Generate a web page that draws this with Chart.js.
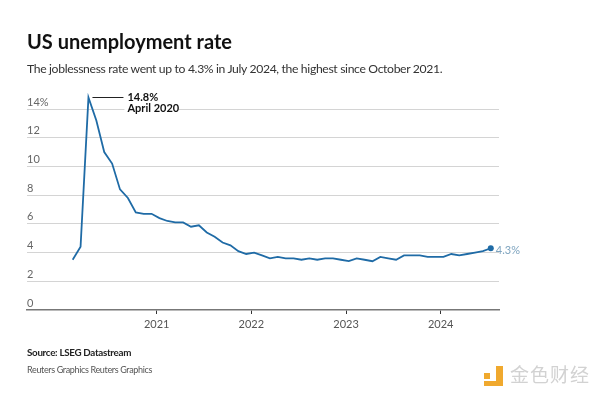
<!DOCTYPE html>
<html lang="en">
  <head>
    <meta charset="utf-8" />
    <title>US unemployment rate</title>
    <style>
      * {
        margin: 0;
        padding: 0;
      }
      body {
        width: 600px;
        height: 398px;
        background: #fff;
        overflow: hidden;
        font-family: Lato, sans-serif;
      }
      .page {
        position: relative;
        width: 600px;
        height: 398px;
      }
      #myChart {
        position: absolute;
        left: 0;
        top: 0;
      }
      .txt {
        position: absolute;
        left: 27px;
        line-height: 1;
        white-space: nowrap;
      }
      .title {
        top: 31px;
        font-size: 20px;
        font-weight: 700;
        color: #111;
      }
      .subtitle {
        top: 63px;
        font-size: 12.2px;
        letter-spacing: -0.35px;
        color: #333;
      }
      .source {
        top: 348px;
        font-size: 9.8px;
        font-weight: 700;
        letter-spacing: -0.3px;
        color: #222;
      }
      .credit {
        top: 365px;
        font-size: 9px;
        letter-spacing: -0.35px;
        color: #555;
      }
      .mark {
        position: absolute;
        left: 510px;
        top: 364px;
        font-family: "Noto Sans CJK SC", sans-serif;
        font-size: 19px;
        line-height: 1;
        color: #d2d2d2;
        letter-spacing: 1px;
      }
      .ico {
        position: absolute;
        background: #f0a92e;
      }
    </style>
  </head>
  <body>
    <div class="page">
      <canvas id="myChart" width="600" height="398"></canvas>
      <div class="txt title">US unemployment rate</div>
      <div class="txt subtitle">
        The joblessness rate went up to 4.3% in July 2024, the highest since October 2021.
      </div>
      <div class="txt source">Source: LSEG Datastream</div>
      <div class="txt credit">Reuters Graphics Reuters Graphics</div>
      <div class="ico" style="left: 484px; top: 373px; width: 6px; height: 6px"></div>
      <div class="ico" style="left: 496px; top: 366px; width: 7px; height: 20px"></div>
      <div class="ico" style="left: 484px; top: 381px; width: 19px; height: 5px"></div>
      <div class="mark">金色财经</div>
    </div>
    <script src="https://cdn.jsdelivr.net/npm/chart.js"></script>
    <script>
      // data
      const months = [
        "2020-02", "2020-03", "2020-04", "2020-05", "2020-06", "2020-07",
        "2020-08", "2020-09", "2020-10", "2020-11", "2020-12",
        "2021-01", "2021-02", "2021-03", "2021-04", "2021-05", "2021-06",
        "2021-07", "2021-08", "2021-09", "2021-10", "2021-11", "2021-12",
        "2022-01", "2022-02", "2022-03", "2022-04", "2022-05", "2022-06",
        "2022-07", "2022-08", "2022-09", "2022-10", "2022-11", "2022-12",
        "2023-01", "2023-02", "2023-03", "2023-04", "2023-05", "2023-06",
        "2023-07", "2023-08", "2023-09", "2023-10", "2023-11", "2023-12",
        "2024-01", "2024-02", "2024-03", "2024-04", "2024-05", "2024-06",
        "2024-07",
      ];
      const unemployment = [
        3.5, 4.4, 14.8, 13.2, 11.0, 10.2, 8.4, 7.8, 6.8, 6.7, 6.7,
        6.4, 6.2, 6.1, 6.1, 5.8, 5.9, 5.4, 5.1, 4.7, 4.5, 4.1, 3.9,
        4.0, 3.8, 3.6, 3.7, 3.6, 3.6, 3.5, 3.6, 3.5, 3.6, 3.6, 3.5,
        3.4, 3.6, 3.5, 3.4, 3.7, 3.6, 3.5, 3.8, 3.8, 3.8, 3.7, 3.7,
        3.7, 3.9, 3.8, 3.9, 4.0, 4.1, 4.3,
      ];
      const yearTicks = [2021, 2022, 2023, 2024];
      const yTicks = [0, 2, 4, 6, 8, 10, 12, 14];
      const yTickLabels = ["0", "2", "4", "6", "8", "10", "12", "14%"];
      const peakNote = ["14.8%", "April 2020"];

      const LINE = "#1f6ba6";

      // month string -> position on the time axis (a bit into the month)
      const toX = (m) => {
        const [y, mo] = m.split("-").map(Number);
        return y + (mo - 0.65) / 12;
      };
      const points = months.map((m, i) => ({ x: toX(m), y: unemployment[i] }));
      const lastIdx = points.length - 1;

      // notes: peak label and last value
      const notes = {
        id: "notes",
        afterDatasetsDraw(chart) {
          const { ctx } = chart;
          const meta = chart.getDatasetMeta(0);
          const peakIdx = unemployment.indexOf(Math.max(...unemployment));
          const pk = meta.data[peakIdx];
          ctx.save();
          ctx.fillStyle = "#fff";
          ctx.fillRect(pk.x + 36, pk.y + 4, 54, 13);
          ctx.strokeStyle = "#222";
          ctx.lineWidth = 1;
          ctx.beginPath();
          ctx.moveTo(pk.x + 4, pk.y);
          ctx.lineTo(pk.x + 35, pk.y);
          ctx.stroke();
          ctx.fillStyle = "#111";
          ctx.font = "bold 11px Lato";
          ctx.textAlign = "left";
          ctx.textBaseline = "alphabetic";
          ctx.fillText(peakNote[0], pk.x + 39, pk.y + 3);
          ctx.fillText(peakNote[1], pk.x + 39, pk.y + 14.5);

          const lp = meta.data[lastIdx];
          ctx.fillStyle = "#7ea4bf";
          ctx.font = "11px Lato";
          ctx.textBaseline = "middle";
          ctx.fillText(unemployment[lastIdx] + "%", lp.x + 5, lp.y + 2.5);
          ctx.restore();
        },
      };

      const config = {
        type: "line",
        data: {
          datasets: [
            {
              data: points,
              borderColor: LINE,
              backgroundColor: LINE,
              borderWidth: 1.8,
              tension: 0,
              clip: false,
              pointRadius: (c) => (c.dataIndex === lastIdx ? 3 : 0),
              pointBorderWidth: 0,
            },
          ],
        },
        options: {
          responsive: false,
          animation: false,
          devicePixelRatio: 1,
          layout: {
            padding: { left: 27, right: 101, top: 109, bottom: 64 },
          },
          plugins: {
            legend: { display: false },
            tooltip: { enabled: false },
          },
          scales: {
            x: {
              type: "linear",
              min: 2019.63,
              max: 2024.616,
              afterBuildTicks: (s) => {
                s.ticks = yearTicks.map((v) => ({ value: v }));
              },
              afterFit: (s) => {
                s.height = 24;
              },
              grid: {
                drawOnChartArea: false,
                drawTicks: true,
                tickLength: 4,
                tickColor: "#333",
                tickWidth: 1,
              },
              border: { color: "#777", width: 1.5 },
              ticks: {
                padding: 4,
                color: "#555",
                font: { family: "Lato", size: 11 },
                maxRotation: 0,
                callback: (v) => String(v),
              },
            },
            y: {
              min: 0,
              max: 14,
              afterBuildTicks: (s) => {
                s.ticks = yTicks.map((v) => ({ value: v }));
              },
              afterFit: (s) => {
                s.width = 0;
              },
              grid: {
                color: (c) => (c.tick && c.tick.value === 0 ? "rgba(0,0,0,0)" : "#d4d4d4"),
                lineWidth: 1,
                drawTicks: false,
              },
              border: { display: false },
              ticks: {
                mirror: true,
                padding: 0,
                labelOffset: -7,
                color: "#666",
                font: { family: "Lato", size: 11 },
                callback: (v) => yTickLabels[yTicks.indexOf(v)],
              },
            },
          },
        },
        plugins: [notes],
      };

      const myChart = new Chart(document.getElementById("myChart"), config);
    </script>
  </body>
</html>
